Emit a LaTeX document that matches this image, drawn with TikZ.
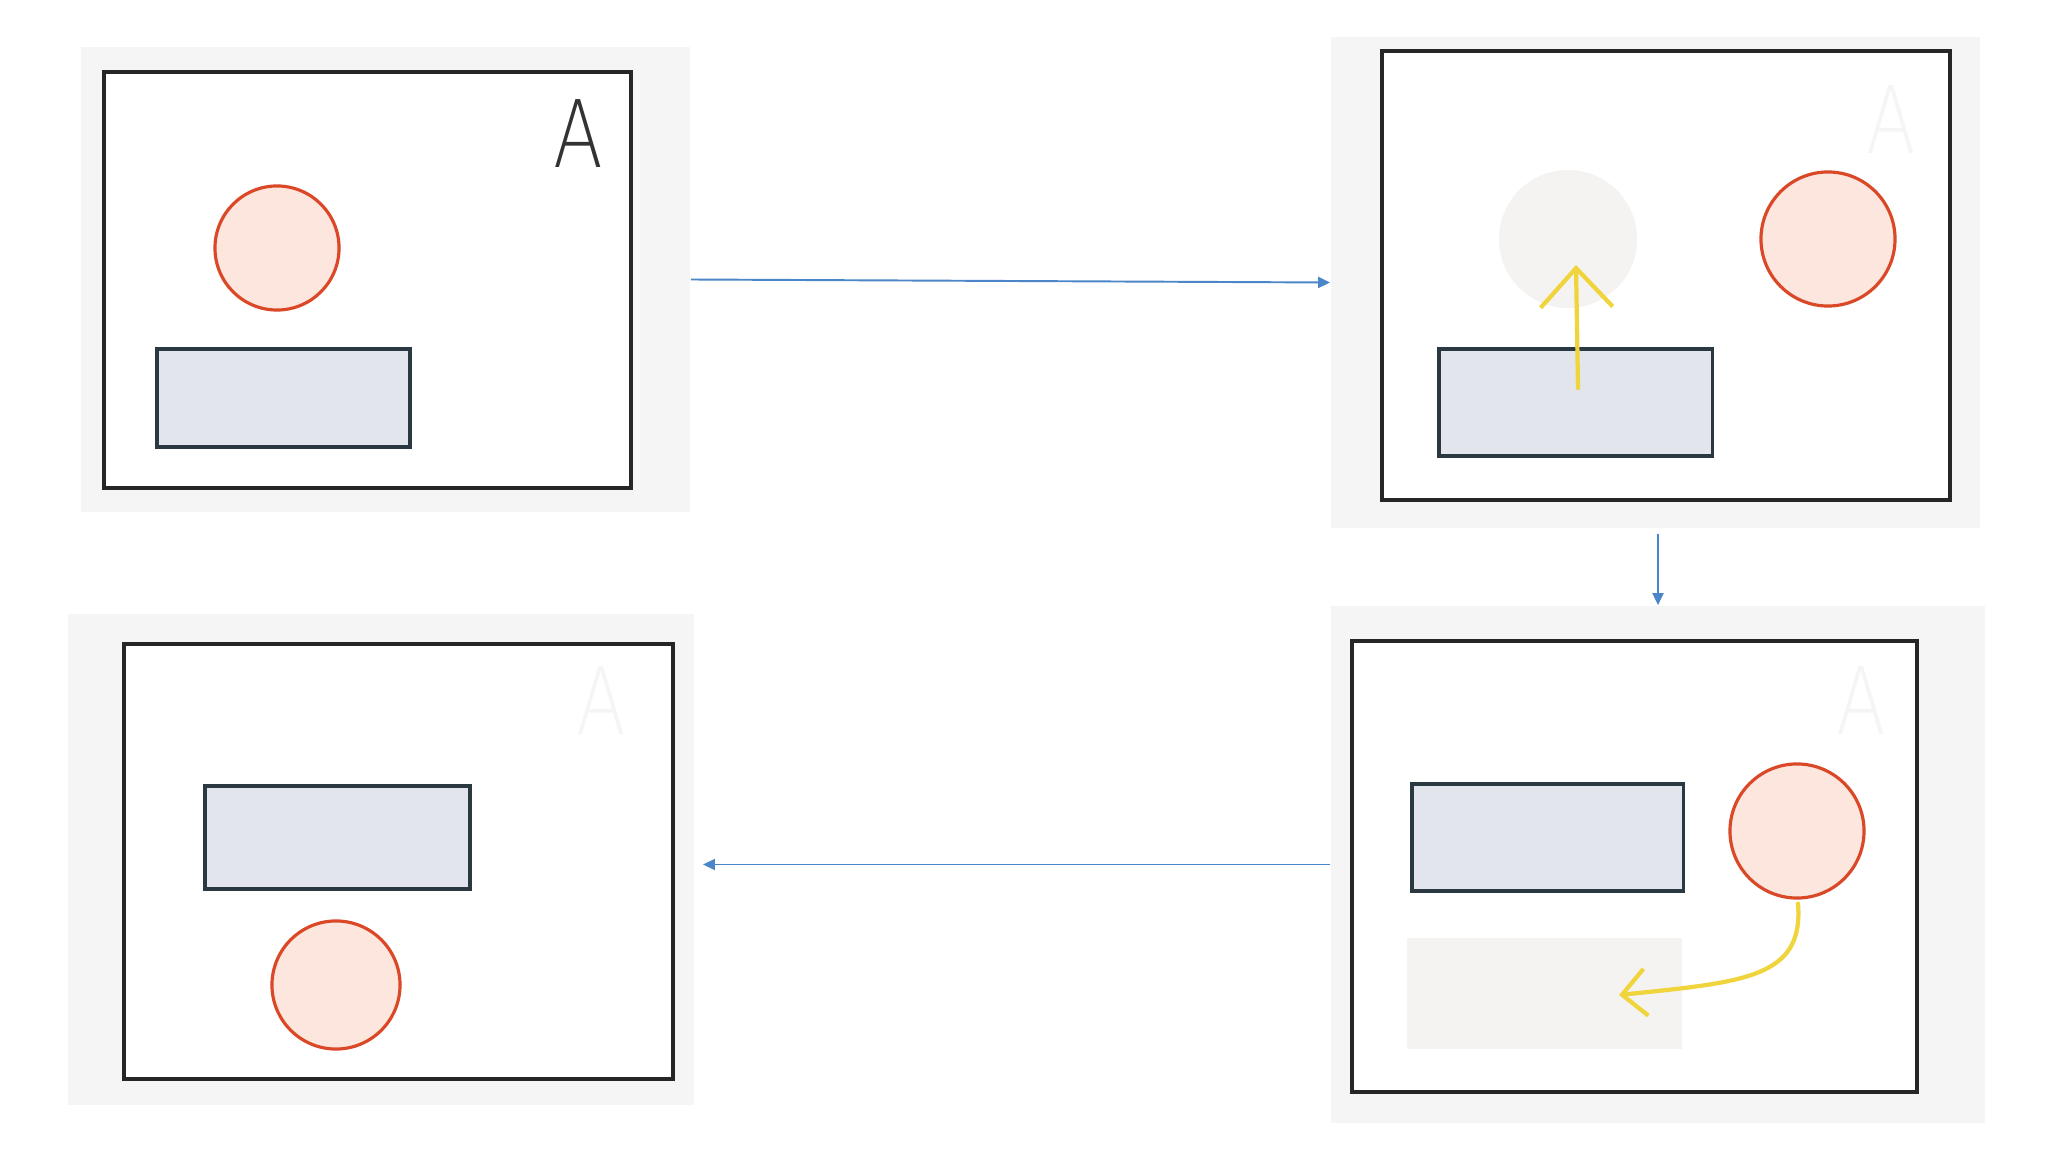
\documentclass[tikz,border=0pt]{standalone}
\usepackage{fontspec}
\IfFontExistsTF{DejaVuSans-ExtraLight.ttf}
  {\newfontfamily\sketchfont{DejaVuSans-ExtraLight.ttf}}
  {\newfontfamily\sketchfont{Fira Sans}}
\usepackage{tikz}
\usetikzlibrary{positioning,arrows.meta,calc}
\definecolor{paper}{RGB}{246,245,245}
\definecolor{inkred}{RGB}{218,72,40}
\definecolor{peach}{RGB}{252,230,222}
\definecolor{slate}{RGB}{42,56,66}
\definecolor{mist}{RGB}{226,230,236}
\definecolor{ghost}{RGB}{244,243,242}
\definecolor{flowblue}{RGB}{74,134,200}
\definecolor{marker}{RGB}{240,212,60}

\begin{document}
\begin{tikzpicture}[x=0.01cm,y=-0.01cm,
  panel/.style={rectangle,fill=paper,inner sep=0pt},
  sheet/.style={rectangle,draw=black!85,line width=1.3pt,fill=white,inner sep=0pt},
  ball/.style={circle,draw=inkred,fill=peach,line width=0.9pt,inner sep=0pt},
  slab/.style={rectangle,draw=slate,fill=mist,line width=0.9pt,inner sep=0pt},
  letter/.style={font=\sketchfont\fontsize{26.5}{26.5}\selectfont,inner sep=0pt,xscale=0.78},
  faded/.style={fill=ghost,draw=none,inner sep=0pt},
  flow/.style={draw=flowblue,line width=0.55pt,-{Triangle[length=0.12cm,width=0.11cm]}},
  move/.style={draw=marker,line width=1.2pt,line cap=round,line join=round}]
\useasboundingbox[fill=white] (0,0) rectangle (2048,1152);

% step 1
\node[panel,minimum width=6.09cm,minimum height=4.65cm] (bg1) at (385.5,279.5) {};
\node[sheet,minimum width=5.27cm,minimum height=4.16cm] (sheet1) at (367.5,280) {};
\node[letter,text=black!80] (tag1) at (578,134) {A};
\node[ball,minimum size=1.24cm] (ball1) at (277,248) {};
\node[slab,minimum width=2.53cm,minimum height=0.98cm] (slab1) at (283.5,398) {};

% step 2
\node[panel,minimum width=6.49cm,minimum height=4.91cm] (bg2) at (1655.5,282.5) {};
\node[sheet,minimum width=5.68cm,minimum height=4.49cm] (sheet2) at (1666,275.5) {};
\node[letter,text=black!4] (tag2) at (1891,120) {A};
\node[faded,circle,minimum size=1.38cm] (ghost2) at (1568,239) {};
\node[ball,minimum size=1.34cm] (ball2) at (1828,239) {};
\node[slab,minimum width=2.73cm,minimum height=1.07cm] (slab2) at (1575.5,402.5) {};
\coordinate (lift0) at (1578,388);
\coordinate (lift1) at (1576,265);
\draw[move,-{Straight Barb[length=0.39cm,width=0.72cm]}] (lift0) -- (lift1);

% step 3
\node[panel,minimum width=6.54cm,minimum height=5.17cm] (bg3) at (1658,864.5) {};
\node[sheet,minimum width=5.65cm,minimum height=4.51cm] (sheet3) at (1634.5,866.5) {};
\node[letter,text=black!4] (tag3) at (1861,701) {A};
\node[faded,minimum width=2.75cm,minimum height=1.11cm] (ghost3) at (1544.5,993.5) {};
\node[slab,minimum width=2.71cm,minimum height=1.07cm] (slab3) at (1547.5,837.5) {};
\node[ball,minimum size=1.34cm] (ball3) at (1797,831) {};
\coordinate (drop1) at (1619,995);
\draw[move,-{Straight Barb[length=0.24cm,width=0.47cm]}] (ball3.south) ++(1,4)
  .. controls (1804,978) and (1745,982) .. (drop1);

% step 4
\node[panel,minimum width=6.26cm,minimum height=4.91cm] (bg4) at (381,859.5) {};
\node[sheet,minimum width=5.49cm,minimum height=4.35cm] (sheet4) at (398.5,861.5) {};
\node[letter,text=black!4] (tag4) at (601,701) {A};
\node[slab,minimum width=2.65cm,minimum height=1.03cm] (slab4) at (337.5,837.5) {};
\node[ball,minimum size=1.28cm] (ball4) at (336,985) {};

% order of steps
\draw[flow] (bg1.east) -- (bg2.west);
\draw[flow,shorten <=1.4pt] (bg3.north |- bg2.south) -- (bg3.north);
\draw[flow,shorten >=2.3pt] (bg3.west) -- (bg4.east |- bg3.west);
\end{tikzpicture}
\end{document}
